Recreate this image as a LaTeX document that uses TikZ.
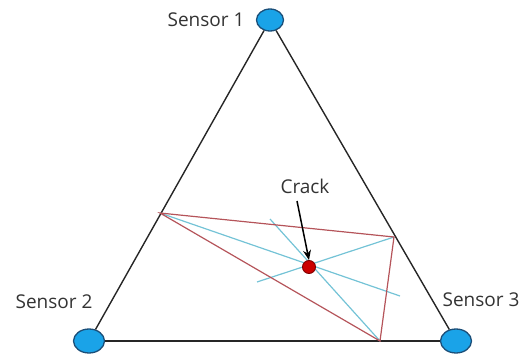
\documentclass[tikz,border=0pt]{standalone}
\usepackage{fontspec}
\setmainfont{Open Sans}
\usetikzlibrary{arrows.meta,shapes.geometric}
\definecolor{sensorblue}{HTML}{1AA3E8}
\definecolor{sensoredge}{HTML}{1B4E78}
\definecolor{redline}{HTML}{B5545A}
\definecolor{cyanline}{HTML}{74C3D6}
\begin{document}
\begin{tikzpicture}[x=1pt,y=-1pt,
  sensor/.style={ellipse,draw=sensoredge,fill=sensorblue,line width=1.3pt,
    minimum width=27pt,minimum height=22pt,inner sep=0pt},
  label/.style={font=\fontsize{19}{21}\selectfont,text=black!80},
  edge/.style={draw=black!85,line width=1.4pt},
  tri/.style={draw=redline,line width=1.2pt},
  ray/.style={draw=cyanline,line width=1.2pt},
  flow/.style={-{Stealth[length=3.5mm,width=2.8mm]},line width=1.5pt}]
\useasboundingbox (0,0) rectangle (523,356);
\node[sensor] (s1) at (270,20) {};
\node[sensor,minimum width=31pt,minimum height=24pt] (s2) at (89,341) {};
\node[sensor,minimum width=31pt,minimum height=24pt] (s3) at (456,341) {};
\node[label,anchor=east] (l1) at (248,20) {Sensor 1};
\node[label] (l2) at (54,302) {Sensor 2};
\node[label] (l3) at (481,300) {Sensor 3};
% points on the sides
\coordinate (pa) at (160,213);
\coordinate (pb) at (394,237);
\coordinate (pc) at (380,341);
\coordinate (ea) at (400,296);
\coordinate (eb) at (257,282);
\coordinate (ec) at (270,219);
\draw[edge] (s1) -- (s2);
\draw[edge] (s2) -- (s3);
\draw[edge] (s3) -- (s1);
\draw[ray] (pa) -- (ea);
\draw[ray] (pb) -- (eb);
\draw[ray] (pc) -- (ec);
\draw[tri] (pa) -- (pb) -- (pc) -- cycle;
\node[circle,draw=red!50!black,fill=red!80!black,line width=0.9pt,
  minimum size=13pt,inner sep=0pt] (crack) at (309,267) {};
\node[label] (cl) at (305,186) {Crack};
\coordinate (ct) at (297,201);
\draw[flow] (ct) -- (crack.north);
\end{tikzpicture}
\end{document}
